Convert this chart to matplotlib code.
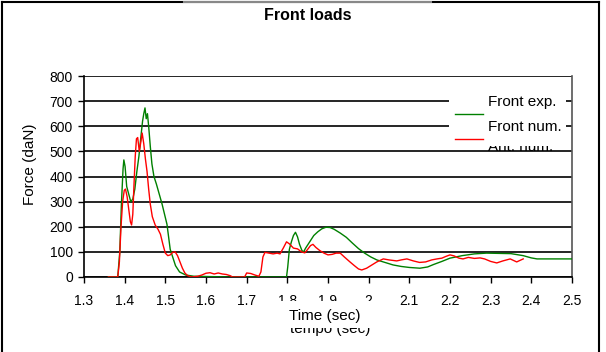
import matplotlib
matplotlib.use("Agg")
import matplotlib.pyplot as plt
from matplotlib.patches import Rectangle
from matplotlib.lines import Line2D

plt.rcParams['font.family'] = ['Liberation Sans', 'DejaVu Sans']

title = "Front loads"
xlabel = "Time (sec)"
xlabel_hidden = "tempo (sec)"
ylabel = "Force (daN)"
series_names = ["Front exp.", "Front num.", "Ant. num."]
xticks = [1.3, 1.4, 1.5, 1.6, 1.7, 1.8, 1.9, 2.0, 2.1, 2.2, 2.3, 2.4, 2.5]
xtick_labels = ["1.3", "1.4", "1.5", "1.6", "1.7", "1.8", "1.9", "2", "2.1", "2.2", "2.3", "2.4", "2.5"]
yticks = [0, 100, 200, 300, 400, 500, 600, 700, 800]

t_exp = [1.36, 1.383, 1.388, 1.392, 1.396, 1.398, 1.401, 1.405, 1.41, 1.415, 1.42, 1.425, 1.43,
         1.435, 1.44, 1.444, 1.447, 1.45, 1.453, 1.456, 1.459, 1.463, 1.467, 1.472, 1.478, 1.485,
         1.492, 1.498, 1.504, 1.508, 1.512, 1.518, 1.525, 1.535, 1.55, 1.57, 1.6, 1.65, 1.7, 1.75,
         1.798, 1.801, 1.805, 1.81, 1.815, 1.82, 1.825, 1.83, 1.836, 1.84, 1.845, 1.855, 1.865,
         1.875, 1.885, 1.895, 1.905, 1.915, 1.93, 1.945, 1.96, 1.975, 1.99, 2.005, 2.02, 2.04,
         2.06, 2.08, 2.1, 2.126, 2.145, 2.16, 2.18, 2.2, 2.23, 2.26, 2.29, 2.32, 2.35, 2.38, 2.40,
         2.414, 2.45, 2.5]
f_exp = [0, 0, 100, 290, 430, 466, 440, 360, 330, 300, 310, 350, 420,
         480, 560, 620, 650, 673, 630, 650, 600, 520, 450, 400, 370, 330,
         290, 250, 210, 160, 110, 80, 45, 20, 8, 3, 2, 0, 0, 0,
         0, 40, 110, 140, 165, 178, 160, 130, 105, 100, 115, 140, 165,
         180, 192, 198, 197, 190, 175, 158, 135, 113, 95, 80, 68, 58,
         48, 42, 38, 35, 40, 50, 62, 75, 85, 92, 95, 94, 93, 85, 76,
         72, 72, 72]

t_num = [1.36, 1.383, 1.387, 1.391, 1.395, 1.399, 1.402, 1.406, 1.41, 1.414, 1.417, 1.42, 1.423,
         1.426, 1.429, 1.432, 1.436, 1.44, 1.443, 1.447, 1.451, 1.455, 1.459, 1.463, 1.468, 1.475,
         1.482, 1.488, 1.494, 1.5, 1.506, 1.512, 1.518, 1.524, 1.53, 1.536, 1.542, 1.548, 1.555,
         1.565, 1.58, 1.59, 1.6, 1.61, 1.62, 1.63, 1.64, 1.65, 1.66, 1.665, 1.695, 1.70, 1.71,
         1.72, 1.73, 1.735, 1.74, 1.745, 1.755, 1.765, 1.775, 1.782, 1.79, 1.798, 1.805, 1.815,
         1.825, 1.835, 1.843, 1.85, 1.857, 1.863, 1.87, 1.88, 1.89, 1.9, 1.91, 1.92, 1.93, 1.94,
         1.954, 1.965, 1.975, 1.983, 1.995, 2.005, 2.02, 2.036, 2.05, 2.069, 2.08, 2.094, 2.11,
         2.125, 2.14, 2.155, 2.168, 2.18, 2.19, 2.2, 2.21, 2.222, 2.232, 2.245, 2.26, 2.274,
         2.285, 2.3, 2.315, 2.33, 2.348, 2.356, 2.364, 2.372, 2.38]
f_num = [0, 0, 60, 200, 300, 345, 350, 320, 270, 220, 207, 250, 370,
         480, 550, 555, 500, 540, 573, 530, 470, 420, 350, 290, 240, 207,
         190, 170, 130, 95, 85, 88, 98, 100, 85, 60, 35, 16, 5,
         0, 3, 8, 15, 17, 12, 16, 12, 10, 5, 0, 0, 16, 14,
         8, 3, 20, 80, 98, 95, 92, 95, 92, 115, 140, 132, 115,
         112, 100, 96, 110, 125, 130, 118, 105, 95, 88, 90, 95, 95, 80,
         60, 45, 32, 28, 35, 45, 60, 72, 68, 64, 68, 72, 64,
         58, 60, 68, 72, 75, 82, 88, 84, 75, 72, 78, 74, 76,
         72, 62, 56, 64, 72, 66, 60, 66, 72]

W, H = 606, 352
fig = plt.figure(figsize=(W / 100, H / 100), dpi=100)
fig.patch.set_facecolor("white")


def fx(x):
    return x / W


def fy(y):
    return 1 - y / H


ax = fig.add_axes([fx(84), fy(277), fx(572) - fx(84), fy(76) - fy(277)])
ax.set_xlim(1.3, 2.5)
ax.set_ylim(0, 800)
ax.set_xticks(xticks)
ax.set_xticklabels(xtick_labels)
ax.set_yticks(yticks)
ax.tick_params(axis='both', direction='out', length=4, width=1, labelsize=10, colors='black', pad=8)
ax.tick_params(axis='y', pad=4)
ax.yaxis.grid(True, color='black', linewidth=1.2)
ax.set_axisbelow(True)
for s in ['left', 'bottom']:
    ax.spines[s].set_color('black')
    ax.spines[s].set_linewidth(1.2)
ax.spines['right'].set_color('#555555')
ax.spines['right'].set_linewidth(1.2)
ax.spines['top'].set_visible(False)

ax.plot(t_exp, f_exp, color='#008000', linewidth=1.0, zorder=3)
ax.plot(t_num, f_num, color='#ff0000', linewidth=1.0, zorder=3)

# outer frame
fig.add_artist(Line2D([fx(2.5), fx(2.5)], [fy(2), fy(352)], color='black', linewidth=1.5))
fig.add_artist(Line2D([fx(599), fx(599)], [fy(2), fy(352)], color='black', linewidth=1.5))
fig.add_artist(Line2D([fx(2), fx(599)], [fy(2), fy(2)], color='black', linewidth=1.5))
fig.add_artist(Line2D([fx(184), fx(431)], [fy(2), fy(2)], color='#888888', linewidth=1.5))

fig.text(fx(308), fy(15), title, ha='center', va='center', fontsize=11.5, fontweight='bold')
fig.text(fx(30), fy(164), ylabel, ha='center', va='center', rotation=90, fontsize=11)

# x label with hidden one behind
fig.text(fx(330), fy(333), xlabel_hidden, ha='center', va='baseline', fontsize=11, zorder=1)
fig.add_artist(Rectangle((fx(276), fy(327.5)), fx(378) - fx(276), fy(301) - fy(327.5),
                         facecolor='white', edgecolor='none', zorder=5))
fig.text(fx(325), fy(320), xlabel, ha='center', va='baseline', fontsize=11, zorder=6)

# legend
fig.add_artist(Rectangle((fx(449), fy(150)), fx(566) - fx(449), fy(90) - fy(150),
                         facecolor='white', edgecolor='none', zorder=5))
fig.text(fx(487.5), fy(151), series_names[2], ha='left', va='baseline', fontsize=11, zorder=6)
fig.add_artist(Rectangle((fx(486), fy(145.5)), fx(566) - fx(486), fy(117) - fy(145.5),
                         facecolor='white', edgecolor='none', zorder=7))
fig.text(fx(487.5), fy(105.5), series_names[0], ha='left', va='baseline', fontsize=11, zorder=8)
fig.text(fx(487.5), fy(131), series_names[1], ha='left', va='baseline', fontsize=11, zorder=8)
fig.add_artist(Line2D([fx(455), fx(483)], [fy(114), fy(114)], color='#008000', linewidth=1.0, zorder=8))
fig.add_artist(Line2D([fx(455), fx(483)], [fy(139), fy(139)], color='#ff0000', linewidth=1.0, zorder=8))

fig.savefig("out.png", dpi=100)
